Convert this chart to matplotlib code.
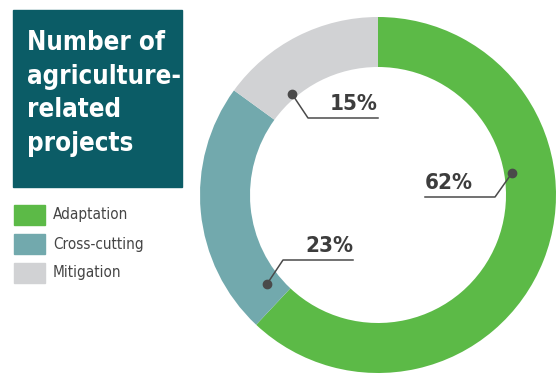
import matplotlib
matplotlib.use("Agg")
import matplotlib.pyplot as plt
from matplotlib.patches import Rectangle

categories = ["Adaptation", "Cross-cutting", "Mitigation"]
shares = [62, 23, 15]
colors = ["#5cba47", "#72a9ad", "#d1d2d4"]
title_lines = "Number of\nagriculture-\nrelated\nprojects"

plt.rcParams["font.family"] = ["DejaVu Sans"]
plt.rcParams["font.stretch"] = "condensed"

W, H = 556, 377
fig = plt.figure(figsize=(W / 100, H / 100), dpi=100)
ax = fig.add_axes([0, 0, 1, 1])

# donut, clockwise from 12 o'clock
cx, cy, R = 378, H - 195, 178
ax.pie(shares, colors=colors, startangle=90, counterclock=False,
       center=(cx, cy), radius=R, wedgeprops=dict(width=50, linewidth=0))
ax.set_xlim(0, W)
ax.set_ylim(0, H)
ax.set_aspect("equal")
ax.axis("off")

# title box
ax.add_patch(Rectangle((13, H - 187), 169, 177, color="#0b5c66", zorder=3))
ax.text(27, H - 30, title_lines, color="white", fontsize=18.5, fontweight="bold",
        va="top", ha="left", linespacing=1.38, zorder=4)

# legend
for i, (cat, col) in enumerate(zip(categories, colors)):
    y = H - 205 - i * 29
    ax.add_patch(Rectangle((14, y - 20), 31, 20, color=col, zorder=3))
    ax.text(53, y - 10, cat, color="#454545", fontsize=11, va="center", ha="left")

# value callouts: (dot, elbow, line end, text anchor)
callouts = [
    ((512, 173), (495, 197), (425, 197), (425, 193), "left"),
    ((267, 284), (283, 260), (353, 260), (353, 256), "right"),
    ((292, 94), (308, 118), (378, 118), (378, 114), "right"),
]
for (dot, elbow, end, tpos, ha), val in zip(callouts, shares):
    ax.plot([dot[0], elbow[0], end[0]], [H - dot[1], H - elbow[1], H - end[1]],
            color="#4a4a4a", lw=1.1, zorder=5)
    ax.plot(dot[0], H - dot[1], "o", color="#4a4a4a", ms=6, zorder=6)
    ax.text(tpos[0], H - tpos[1], f"{val}%", color="#3d3d3d", fontsize=16,
            fontweight="bold", ha=ha, va="bottom", zorder=6)

fig.savefig("out.png", dpi=100)
